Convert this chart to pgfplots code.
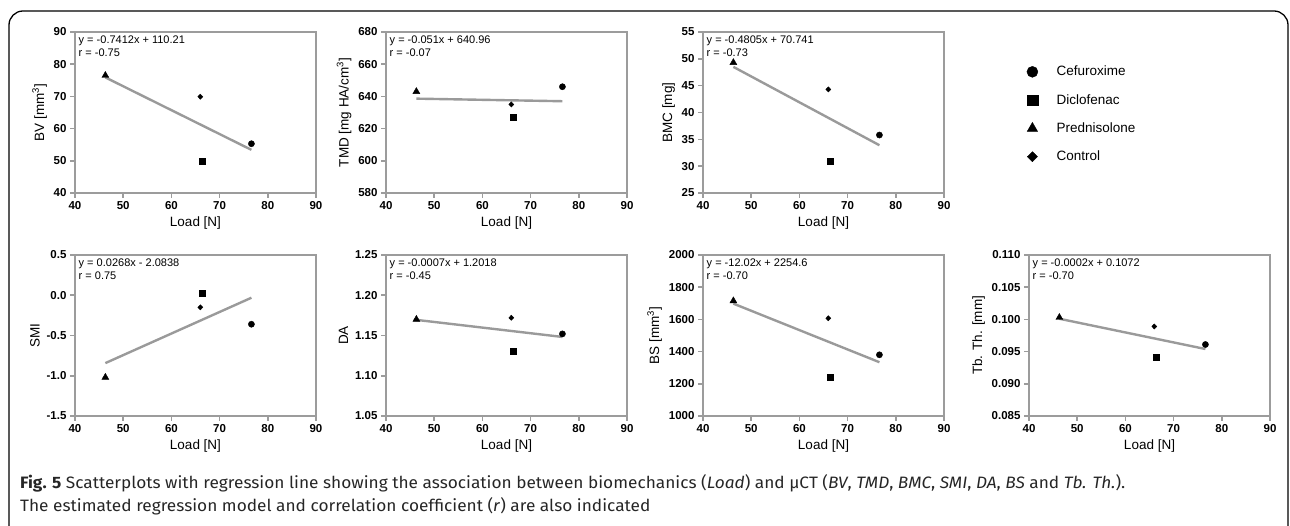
\documentclass[border=0pt]{standalone}
\usepackage{fontspec}
\setmainfont{Liberation Sans}
\newfontfamily\capfont{Fira Sans}
\usepackage{pgfplots}
\pgfplotsset{compat=1.18}

\definecolor{axgray}{HTML}{9C9C9C}
\definecolor{reggray}{HTML}{9A9A9A}

\pgfplotsset{
  panel/.style={
    anchor=south west, width=241pt, height=161pt, scale only axis,
    xmin=40, xmax=90, xtick={40,50,...,90},
    axis line style={draw=axgray, line width=2.4pt},
    major tick style={draw=axgray, line width=1.6pt},
    major tick length=5pt, tick align=outside, tick pos=left,
    ticklabel style={font=\fontsize{11.5}{12}\selectfont\bfseries},
    label style={font=\fontsize{13.5}{15}\selectfont},
    xlabel={Load [N]},
    /pgf/number format/assume math mode=true,
    /pgf/number format/1000 sep={},
    scaled y ticks=false, clip=false,
  },
  reg/.style={draw=reggray, line width=2.4pt, no marks},
  cef/.style={only marks, mark=*, mark size=3.1pt, black},
  dic/.style={only marks, mark=square*, mark size=3pt, black},
  pred/.style={only marks, mark=triangle*, mark size=4pt, black},
  ctl/.style={only marks, mark=diamond*, mark size=2.6pt, black, mark options={xscale=1.3}},
}
\newcommand{\eqnote}[1]{\node[anchor=north west, align=left, inner sep=3.5pt,
  font=\fontsize{11}{13}\selectfont] at (rel axis cs:0,1) {#1};}

\begin{document}
\begin{tikzpicture}
\useasboundingbox (0,0) rectangle (1290pt,526pt);
\draw[line width=1.3pt, rounded corners=14pt] (9pt,-40pt) rectangle (1288pt,515pt);

% ---- row 1 ----
\begin{axis}[panel, at={(75pt,333pt)}, ymin=40, ymax=90, ytick={40,50,...,90},
  ylabel={BV [mm\textsuperscript{3}]}]
  \addplot[reg] coordinates {(46.3,75.9) (76.6,53.4)};
  \addplot[cef] coordinates {(76.6,55.3)};
  \addplot[dic] coordinates {(66.3,49.9)};
  \addplot[pred] coordinates {(46.3,76.5)};
  \addplot[ctl] coordinates {(66.0,69.9)};
  \eqnote{y = -0.7412x + 110.21\\r = -0.75}
\end{axis}

\begin{axis}[panel, at={(386pt,333pt)}, ymin=580, ymax=680, ytick={580,600,...,680},
  ylabel={TMD [mg HA/cm\textsuperscript{3}]}]
  \addplot[reg] coordinates {(46.3,638.6) (76.6,637.0)};
  \addplot[cef] coordinates {(76.6,646.0)};
  \addplot[dic] coordinates {(66.3,626.8)};
  \addplot[pred] coordinates {(46.3,643.0)};
  \addplot[ctl] coordinates {(66.0,635.0)};
  \eqnote{y = -0.051x + 640.96\\r = -0.07}
\end{axis}

\begin{axis}[panel, at={(703pt,333pt)}, ymin=25, ymax=55, ytick={25,30,...,55},
  ylabel={BMC [mg]}]
  \addplot[reg] coordinates {(46.3,48.5) (76.6,33.9)};
  \addplot[cef] coordinates {(76.6,35.8)};
  \addplot[dic] coordinates {(66.3,30.9)};
  \addplot[pred] coordinates {(46.3,49.3)};
  \addplot[ctl] coordinates {(66.0,44.3)};
  \eqnote{y = -0.4805x + 70.741\\r = -0.73}
\end{axis}

% legend
\begin{axis}[hide axis, anchor=north west, at={(1020pt,462pt)}, width=100pt, height=100pt,
  scale only axis, xmin=0, xmax=1, ymin=0, ymax=1,
  legend style={at={(0,1)}, anchor=north west, draw=none, fill=none,
    font=\fontsize{13.5}{15}\selectfont, row sep=13pt, inner sep=0pt},
  legend cell align=left,
  legend image code/.code={\draw plot coordinates {(12pt,0pt)}; \path (0pt,0pt) (34pt,0pt);}]
  \addlegendimage{only marks, mark=*, mark size=5.5pt, black}
  \addlegendentry{Cefuroxime}
  \addlegendimage{only marks, mark=square*, mark size=5.3pt, black}
  \addlegendentry{Diclofenac}
  \addlegendimage{only marks, mark=triangle*, mark size=6pt, black}
  \addlegendentry{Prednisolone}
  \addlegendimage{only marks, mark=diamond*, mark size=5pt, black, mark options={xscale=1.35}}
  \addlegendentry{Control}
\end{axis}

% ---- row 2 ----
\begin{axis}[panel, at={(75pt,110pt)}, ymin=-1.5, ymax=0.5, ytick={-1.5,-1,...,0.5},
  yticklabel style={/pgf/number format/.cd, fixed, fixed zerofill, precision=1},
  ylabel={SMI}]
  \addplot[reg] coordinates {(46.3,-0.843) (76.6,-0.031)};
  \addplot[cef] coordinates {(76.6,-0.36)};
  \addplot[dic] coordinates {(66.3,0.03)};
  \addplot[pred] coordinates {(46.3,-1.02)};
  \addplot[ctl] coordinates {(66.0,-0.15)};
  \eqnote{y = 0.0268x - 2.0838\\r = 0.75}
\end{axis}

\begin{axis}[panel, at={(386pt,110pt)}, ymin=1.05, ymax=1.25, ytick={1.05,1.10,1.15,1.20,1.25},
  yticklabel style={/pgf/number format/.cd, fixed, fixed zerofill, precision=2},
  ylabel={DA}]
  \addplot[reg] coordinates {(46.3,1.1694) (76.6,1.1482)};
  \addplot[cef] coordinates {(76.6,1.152)};
  \addplot[dic] coordinates {(66.3,1.130)};
  \addplot[pred] coordinates {(46.3,1.170)};
  \addplot[ctl] coordinates {(66.0,1.172)};
  \eqnote{y = -0.0007x + 1.2018\\r = -0.45}
\end{axis}

\begin{axis}[panel, at={(703pt,110pt)}, ymin=1000, ymax=2000, ytick={1000,1200,...,2000},
  ylabel={BS [mm\textsuperscript{3}]}]
  \addplot[reg] coordinates {(46.3,1698) (76.6,1334)};
  \addplot[cef] coordinates {(76.6,1380)};
  \addplot[dic] coordinates {(66.3,1243)};
  \addplot[pred] coordinates {(46.3,1715)};
  \addplot[ctl] coordinates {(66.0,1607)};
  \eqnote{y = -12.02x + 2254.6\\r = -0.70}
\end{axis}

\begin{axis}[panel, at={(1029pt,110pt)}, ymin=0.085, ymax=0.110,
  ytick={0.085,0.090,0.095,0.100,0.105,0.110},
  yticklabel style={/pgf/number format/.cd, fixed, fixed zerofill, precision=3},
  ylabel={Tb. Th. [mm]}]
  \addplot[reg] coordinates {(46.3,0.1001) (76.6,0.0954)};
  \addplot[cef] coordinates {(76.6,0.0961)};
  \addplot[dic] coordinates {(66.3,0.0942)};
  \addplot[pred] coordinates {(46.3,0.1003)};
  \addplot[ctl] coordinates {(66.0,0.0989)};
  \eqnote{y = -0.0002x + 0.1072\\r = -0.70}
\end{axis}

% caption, squeezed to the reference's line length
\node[anchor=base west, inner sep=0pt, text=black!85, font=\capfont\fontsize{16.5}{23}\selectfont]
  at (20pt,14pt) {\resizebox{1105pt}{\height}{\begin{tabular}[b]{@{}l@{}}%
  \textbf{Fig. 5} Scatterplots with regression line showing the association between biomechanics (\textit{Load}) and µCT (\textit{BV}, \textit{TMD}, \textit{BMC}, \textit{SMI}, \textit{DA}, \textit{BS} and \textit{Tb. Th.}).\\
  The estimated regression model and correlation coefficient (\textit{r}) are also indicated
  \end{tabular}}};
\end{tikzpicture}
\end{document}
